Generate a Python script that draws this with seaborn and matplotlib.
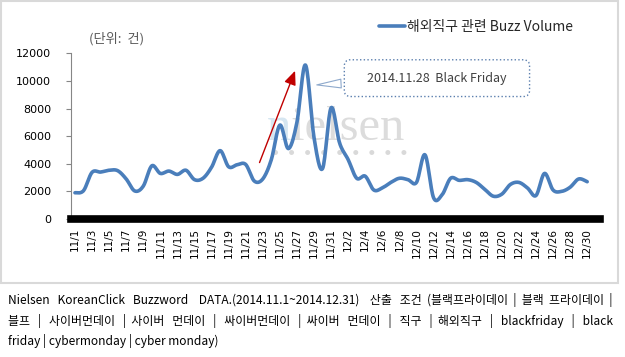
import numpy as np
import pandas as pd
import seaborn as sns
import matplotlib.pyplot as plt
from matplotlib.patches import Rectangle
from matplotlib.lines import Line2D

# daily labels as in the source sheet (it has an "11/31" row)
dates = ["11/%d" % d for d in range(1, 32)] + ["12/%d" % d for d in range(1, 32)]
# buzz volume 11/1 .. 12/30
buzz = [1900, 2050, 3380, 3400, 3530, 3500, 2900, 2030, 2380, 3850,
        3300, 3470, 3230, 3530, 2850, 2950, 3750, 4950, 3780, 3930,
        3950, 2750, 2900, 4300, 6800, 5100, 7000, 11150, 5900, 3650,
        8050, 5500, 4300, 2950, 3100, 2100, 2250, 2650, 2950, 2850,
        2650, 4650, 1550, 1750, 2950, 2800, 2850, 2650, 2150, 1650,
        1800, 2500, 2650, 2250, 1700, 3300, 2100, 2000, 2300, 2900,
        2700]
yticks = [0, 2000, 4000, 6000, 8000, 10000, 12000]
series_name = "해외직구 관련 Buzz Volume"
unit_label = "(단위:  건)"
callout = "2014.11.28  Black Friday"
note = ["Nielsen   KoreanClick   Buzzword    DATA.(2014.11.1~2014.12.31)    산출   조건  (블랙프라이데이  |  블랙  프라이데이  |",
        "블프   |   사이버먼데이   |  사이버   먼데이   |   싸이버먼데이   |  싸이버   먼데이   |   직구   |  해외직구   |   blackfriday   |   black",
        "friday | cybermonday | cyber monday)"]

KR = ["Noto Sans CJK KR", "DejaVu Sans"]


def smooth(y, n=16):
    # excel-like smoothed line: bezier through points, control pts from neighbours
    y = np.asarray(y, float)
    p = np.column_stack([np.arange(len(y), dtype=float), y])
    pad = np.vstack([p[0], p, p[-1]])
    t = np.linspace(0, 1, n, endpoint=False)[:, None]
    segs = []
    for i in range(len(p) - 1):
        p0, p1, p2, p3 = pad[i], pad[i + 1], pad[i + 2], pad[i + 3]
        c1 = p1 + (p2 - p0) / 6
        c2 = p2 - (p3 - p1) / 6
        segs.append((1 - t) ** 3 * p1 + 3 * (1 - t) ** 2 * t * c1 + 3 * (1 - t) * t ** 2 * c2 + t ** 3 * p2)
    segs.append(p[-1:])
    return pd.DataFrame(np.vstack(segs), columns=["x", "y"])


sns.set_theme(style="white")
plt.rcParams["font.family"] = ["DejaVu Sans", "Noto Sans CJK KR"]

fig = plt.figure(figsize=(6.25, 3.57), dpi=100)
ax = fig.add_axes([70.7 / 625, 138 / 357, (600 - 70.7) / 625, (219 - 53.3) / 357])
ax.patch.set_alpha(0)

# watermark logo: "nielsen" + a dotted row underneath
ax.text(267 / 625, 1 - 140 / 357, "n", transform=fig.transFigure, fontsize=35,
        family="Liberation Serif", color="#d6e6f1", zorder=0)
ax.text(291 / 625, 1 - 140 / 357, "ielsen", transform=fig.transFigure, fontsize=35,
        family="Liberation Serif", color="#dcdcdc", zorder=0)
dots = Line2D([275 / 625, 408 / 625], [1 - 152 / 357, 1 - 152 / 357], transform=fig.transFigure,
              color="#d9d9d9", lw=3.6, linestyle=(0, (0.01, 3.2)), dash_capstyle="round", zorder=0)
ax.add_artist(dots)

curve = smooth(buzz)
sns.lineplot(data=curve, x="x", y="y", sort=False, estimator=None, ax=ax,
             color="#4a7ebb", linewidth=2.6, label=series_name, zorder=3)

ax.set_xlim(-0.5, len(dates) - 0.5)
ax.set_ylim(0, 12000)
ax.set_yticks(yticks)
ax.set_yticklabels([str(v) for v in yticks], fontsize=8, color="black")
ax.set_xticks(range(0, len(buzz), 2))
ax.set_xticklabels(dates[0:len(buzz):2], rotation=90, fontsize=7.5, color="black")
ax.tick_params(axis="y", direction="out", length=3.6, width=0.8, color="#868686", pad=10.5, left=True)
ax.tick_params(axis="x", length=0, pad=6.5)
ax.set_xlabel("")
ax.set_ylabel("")
for s in ["top", "right"]:
    ax.spines[s].set_visible(False)
ax.spines["left"].set_color("#868686")
ax.spines["left"].set_linewidth(0.8)
ax.spines["bottom"].set_color("black")
ax.spines["bottom"].set_linewidth(5.5)
ax.spines["bottom"].set_zorder(4)

leg = ax.legend(loc="center left", bbox_to_anchor=(379 / 625, 1 - 27 / 357), bbox_transform=fig.transFigure,
                frameon=False, borderpad=0, borderaxespad=0, handlelength=1.9, handletextpad=0.15,
                prop={"family": KR, "size": 10})

fig.text(89 / 625, 1 - 39 / 357, unit_label, fontsize=9.5, family=KR, color="#595959", va="center")

# callout for the black friday peak
ax.annotate("    " + callout + "    ", xy=(28.0, 9700), xytext=(42.4, 10200), fontsize=9, family=KR,
            color="#404040", ha="center", va="center", zorder=5,
            bbox=dict(boxstyle="round,pad=0.95,rounding_size=0.5", fc="white", ec="#5b7fae", ls=":", lw=1),
            arrowprops=dict(arrowstyle="wedge,tail_width=0.7,shrink_factor=0.5", fc="white", ec="#8ea9cc", lw=0.8))

# red arrow
ax.annotate("", xy=(25.9, 10920), xytext=(21.5, 3900),
            arrowprops=dict(arrowstyle="-|>,head_length=0.7,head_width=0.3", color="#c00000", lw=1), zorder=2)

# outer chart frame
fig.patches.append(Rectangle((0.8 / 625, 1 - 283 / 357), 617 / 625, 282 / 357, transform=fig.transFigure,
                             fill=False, ec="#d9d9d9", lw=1.5))

fig.text(8 / 625, 1 - 300 / 357, note[0], fontsize=8.6, family=KR, color="black", va="center")
fig.text(8 / 625, 1 - 321 / 357, note[1], fontsize=8.6, family=KR, color="black", va="center")
fig.text(8 / 625, 1 - 341 / 357, note[2], fontsize=8.6, family=KR, color="black", va="center")

fig.savefig("out.png", dpi=100)
